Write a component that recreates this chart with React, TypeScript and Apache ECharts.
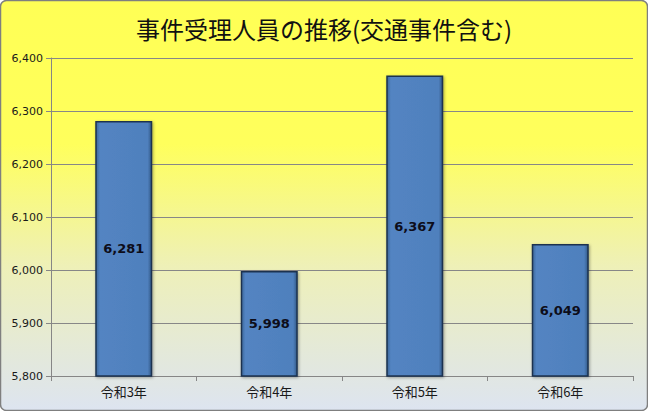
import React, { useEffect, useRef } from "react";
import * as echarts from "echarts";

const categories = ["令和3年", "令和4年", "令和5年", "令和6年"];
const values = [6281, 5998, 6367, 6049];
const yMin = 5800;
const yMax = 6400;
const yStep = 100;

const App: React.FC = () => {
  const chartRef = useRef<HTMLDivElement>(null);

  useEffect(() => {
    document.body.style.margin = "0";
    const chart = echarts.init(chartRef.current!, undefined, { renderer: "svg" });

    const option: echarts.EChartsOption = {
      animation: false,
      graphic: [
        {
          type: "rect",
          z: -10,
          silent: true,
          shape: { x: 0.5, y: 0.5, width: 647, height: 410, r: 6 },
          style: {
            stroke: "#7f7f7f",
            lineWidth: 1.5,
            fill: new echarts.graphic.LinearGradient(0, 0, 0, 1, [
              { offset: 0, color: "#ffff55" },
              { offset: 0.35, color: "#ffff5c" },
              { offset: 0.65, color: "#eef0b8" },
              { offset: 1, color: "#dde4f0" },
            ]),
          },
        },
      ],
      title: {
        text: "事件受理人員の推移(交通事件含む)",
        left: "center",
        top: 11,
        textStyle: {
          fontFamily: "Noto Sans CJK JP",
          fontSize: 24,
          fontWeight: "normal",
          color: "#111",
        },
      },
      grid: { left: 51, right: 15, top: 58, bottom: 35 },
      xAxis: {
        type: "category",
        data: categories,
        axisLine: { lineStyle: { color: "#868686" } },
        axisTick: { show: true, length: 5, lineStyle: { color: "#868686" } },
        axisLabel: {
          margin: 9,
          color: "#1a1a1a",
          fontSize: 13,
          fontFamily: "Noto Sans CJK JP",
        },
      },
      yAxis: {
        type: "value",
        min: yMin,
        max: yMax,
        interval: yStep,
        axisLine: { show: true, lineStyle: { color: "#868686" } },
        axisTick: { show: true, length: 5, lineStyle: { color: "#868686" } },
        splitLine: { lineStyle: { color: "#878787" } },
        axisLabel: {
          margin: 8,
          color: "#1a1a1a",
          fontSize: 11,
          fontFamily: "DejaVu Sans",
          formatter: (v: number) => v.toLocaleString("en-US"),
        },
      },
      series: [
        {
          type: "bar",
          data: values,
          barWidth: 57,
          itemStyle: {
            color: new echarts.graphic.LinearGradient(0, 0, 1, 0, [
              { offset: 0, color: "#3b6699" },
              { offset: 0.07, color: "#5384c2" },
              { offset: 0.93, color: "#4f80bd" },
              { offset: 1, color: "#335a88" },
            ]),
            borderColor: "#1d3350",
            borderWidth: 1.5,
            shadowColor: "rgba(0,0,0,0.35)",
            shadowBlur: 3,
            shadowOffsetX: 1,
            shadowOffsetY: 1,
          },
          label: {
            show: true,
            position: "inside",
            color: "#0d0d1a",
            fontSize: 13,
            fontWeight: "bold",
            fontFamily: "DejaVu Sans",
            formatter: (p: any) => Number(p.value).toLocaleString("en-US"),
          },
        },
      ],
    };

    chart.setOption(option);
    return () => {
      chart.dispose();
    };
  }, []);

  return <div ref={chartRef} style={{ width: "648px", height: "411px" }} />;
};

export default App;
